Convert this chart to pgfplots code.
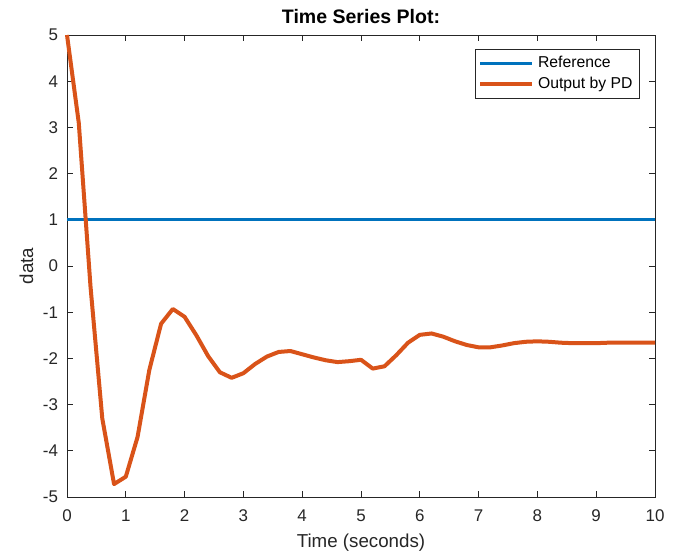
\documentclass[border=0pt]{standalone}
\usepackage{fontspec}
\setmainfont{Liberation Sans}
\usepackage{pgfplots}
\pgfplotsset{compat=1.18}

\definecolor{mblue}{RGB}{0,114,189}
\definecolor{morange}{RGB}{217,83,25}
\definecolor{axgray}{RGB}{38,38,38}

\pgfplotstableread{
t y
0.0 5.00
0.2 3.10
0.4 -0.45
0.6 -3.30
0.8 -4.72
1.0 -4.56
1.2 -3.70
1.4 -2.25
1.6 -1.25
1.8 -0.93
2.0 -1.10
2.2 -1.50
2.4 -1.95
2.6 -2.30
2.8 -2.42
3.0 -2.32
3.2 -2.12
3.4 -1.96
3.6 -1.86
3.8 -1.84
4.0 -1.91
4.2 -1.98
4.4 -2.04
4.6 -2.08
4.8 -2.06
5.0 -2.03
5.2 -2.22
5.4 -2.17
5.6 -1.93
5.8 -1.66
6.0 -1.49
6.2 -1.46
6.4 -1.53
6.6 -1.63
6.8 -1.71
7.0 -1.76
7.2 -1.76
7.4 -1.72
7.6 -1.67
7.8 -1.64
8.0 -1.63
8.2 -1.64
8.4 -1.66
8.6 -1.67
8.8 -1.67
9.0 -1.67
9.2 -1.66
9.4 -1.66
9.6 -1.66
9.8 -1.66
10.0 -1.66
}\pdtable

\begin{document}
\begin{tikzpicture}
\begin{axis}[
    scale only axis,
    width=294bp, height=231bp,
    xmin=0, xmax=10, ymin=-5, ymax=5,
    xtick={0,1,...,10}, ytick={-5,-4,...,5},
    tick align=inside,
    major tick length=3bp,
    axis line style={axgray, line width=0.5bp},
    tick style={axgray, line width=0.5bp},
    /pgf/number format/assume math mode=true,
    ticklabel style={font=\fontsize{8.5}{10}\selectfont, text=axgray},
    xticklabel style={yshift=-3bp},
    yticklabel style={xshift=-1bp},
    xlabel={Time (seconds)},
    ylabel={data},
    label style={font=\fontsize{9.4}{11}\selectfont, text=axgray},
    xlabel style={yshift=1bp},
    ylabel style={yshift=-2bp},
    title={Time Series Plot:},
    title style={font=\bfseries\fontsize{9.8}{11}\selectfont, yshift=-4bp},
    legend style={at={(0.9745,0.9697)}, anchor=north east,
        font=\fontsize{7.9}{9}\selectfont, draw=axgray, line width=0.5bp,
        inner sep=1.5bp, row sep=-1bp, text=black},
    legend cell align=left,
    legend image code/.code={\draw[#1] (0bp,0bp) -- (26bp,0bp);},
    clip=false,
]
\addplot[mblue, line width=1.5bp] coordinates {(0,1) (10,1)};
\addlegendentry{Reference}
\addplot[morange, line width=2bp, line join=round] table[x=t, y=y] {\pdtable};
\addlegendentry{Output by PD}
\coordinate (bl) at (rel axis cs:-0.11395,-0.12554);
\coordinate (tr) at (rel axis cs:1.03571,1.07576);
\end{axis}
\pgfresetboundingbox
\path[use as bounding box] (bl) rectangle (tr);
\end{tikzpicture}
\end{document}
